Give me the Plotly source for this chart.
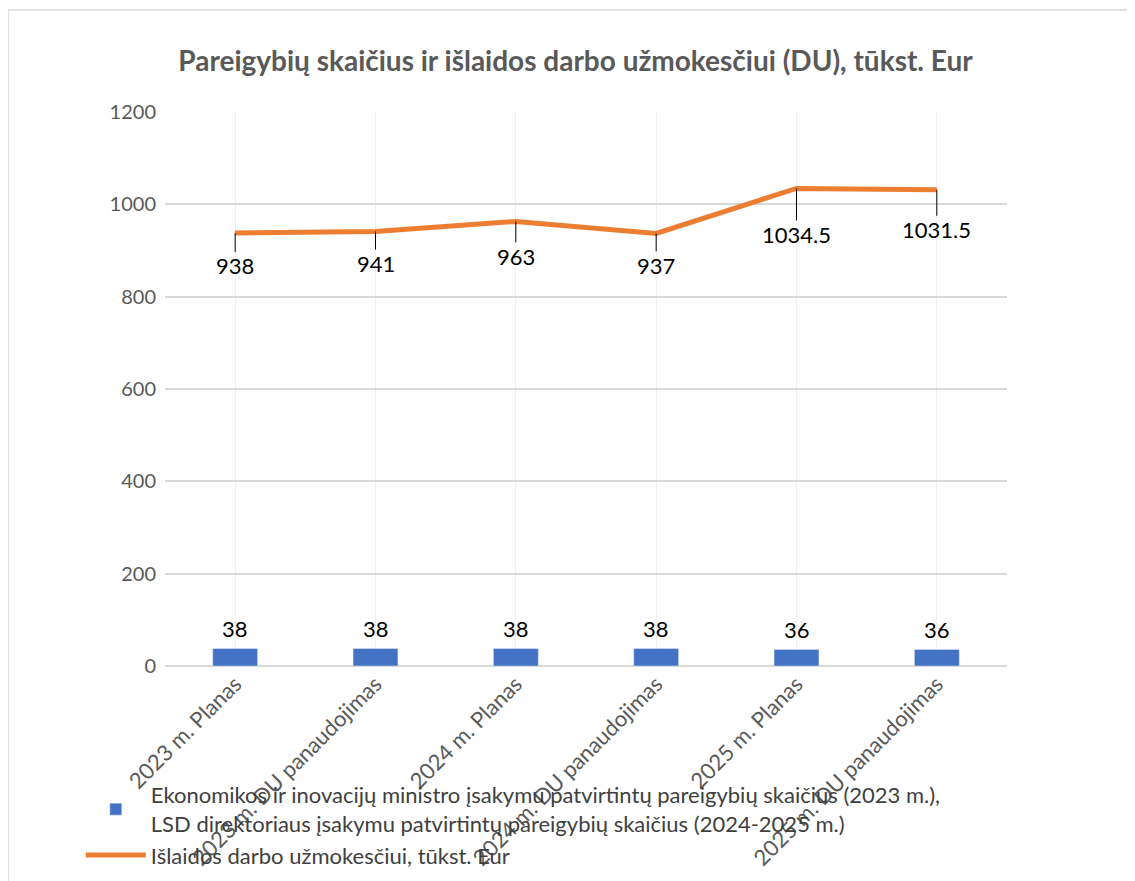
import plotly.graph_objects as go

categories = ['2023 m. Planas', '2023 m. DU panaudojimas', '2024 m. Planas',
              '2024 m. DU panaudojimas', '2025 m. Planas', '2025 m. DU panaudojimas']
positions = [38, 38, 38, 38, 36, 36]
salaries = [938, 941, 963, 937, 1034.5, 1031.5]
label_offsets = [33, 32, 35, 32, 46, 40]

bar_name = ('Ekonomikos ir inovacijų ministro įsakymu patvirtintų pareigybių skaičius (2023 m.),<br>'
            'LSD direktoriaus įsakymu patvirtintų pareigybių skaičius (2024-2025 m.)')
line_name = 'Išlaidos darbo užmokesčiui, tūkst. Eur'

font = 'Lato'

fig = go.Figure()
fig.add_trace(go.Bar(x=categories, y=positions, name=bar_name, marker_color='#4472C4'))
fig.add_trace(go.Scatter(x=categories, y=salaries, name=line_name, mode='lines',
                         line=dict(color='#ED7D31', width=5)))

for c, v in zip(categories, positions):
    fig.add_annotation(x=c, y=v, text=str(v), showarrow=False, yshift=20,
                       font=dict(size=22, color='#000000', family=font))

for c, v, off in zip(categories, salaries, label_offsets):
    fig.add_annotation(x=c, y=v, text=str(v), showarrow=True, arrowhead=0, arrowwidth=1,
                       arrowcolor='#000000', ax=0, ay=off, borderpad=0,
                       font=dict(size=22, color='#000000', family=font))

# chart frame
fig.add_shape(type='rect', xref='paper', yref='paper', x0=-0.1865, x1=1.1437, y0=-0.5, y1=1.184,
              line=dict(color='#D9D9D9', width=1.5), layer='below')

fig.update_layout(
    width=1135, height=881,
    margin=dict(l=157, r=136, t=104, b=223),
    paper_bgcolor='white', plot_bgcolor='white',
    font=dict(family=font, size=20, color='#595959'),
    title=dict(text='<b>Pareigybių skaičius ir išlaidos darbo užmokesčiui (DU), tūkst. Eur</b>',
               x=0.5, xanchor='center', y=0.94, yanchor='middle',
               font=dict(size=28, color='#595959')),
    bargap=0.68,
    showlegend=True,
    legend=dict(orientation='v', x=-0.1, xanchor='left', y=-0.195, yanchor='top',
                font=dict(size=22, color='#404040'), bgcolor='rgba(0,0,0,0)',
                itemwidth=60, tracegroupgap=8),
)
fig.update_xaxes(tickangle=-45, showgrid=True, gridcolor='#F0F0F0', ticks='',
                 showline=False, tickfont=dict(size=22, color='#595959'))
fig.update_yaxes(range=[0, 1200], dtick=200, gridcolor='#D9D9D9', gridwidth=1.5,
                 zeroline=True, zerolinecolor='#D9D9D9', zerolinewidth=1.5,
                 tickfont=dict(size=20, color='#595959'), ticklabelstandoff=8)

fig.write_html("out.html")
